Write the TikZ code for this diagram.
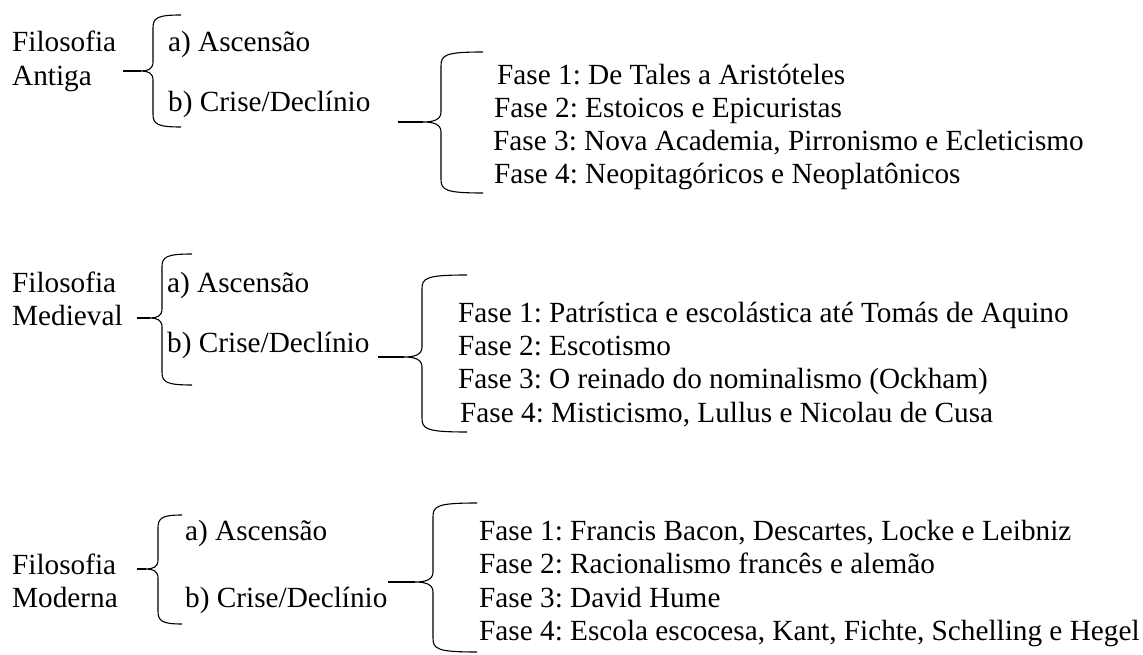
\documentclass[tikz,border=0pt]{standalone}
\usepackage{fontspec}
\setmainfont{Liberation Serif}
\tikzset{
  texto/.style={anchor=base west,inner sep=0pt,font=\fontsize{29.25}{33}\selectfont},
  chave/.style={line width=1.1pt,line join=round}
}
\frenchspacing
\begin{document}
\begin{tikzpicture}[x=1pt,y=-1pt]
	\useasboundingbox (0,0) rectangle (1143,655);
	% Filosofia Antiga
	\node[texto] (antigaA) at (12,52) {Filosofia};
	\node[texto] (antigaB) at (12,86) {Antiga};
	\node[texto] (antigaAsc) at (168,52) {a) Ascens\~ao};
	\node[texto] (antigaCri) at (168,112) {b) Crise/Decl\'inio};
	\node[texto] (antigaF1) at (497,85) {Fase 1: De Tales a Arist\'oteles};
	\node[texto] (antigaF2) at (494,118) {Fase 2: Estoicos e Epicuristas};
	\node[texto] (antigaF3) at (493,151) {Fase 3: Nova Academia, Pirronismo e Ecleticismo};
	\node[texto] (antigaF4) at (494,184) {Fase 4: Neopitag\'oricos e Neoplat\^onicos};
	\coordinate (antigaIni) at (123,71);
	\coordinate (antigaPta) at (141,71);
	\coordinate (antigaIni2) at (398,122);
	\coordinate (antigaPta2) at (423,122);
	\draw[chave] (antigaIni) -- (antigaPta);
	\draw[chave] (181,15) .. controls (157,15) and (153,18) .. (153,28) -- (153,62)
		.. controls (153,69) and (148,71) .. (antigaPta)
		.. controls (148,71) and (153,73) .. (153,80) -- (153,114)
		.. controls (153,124) and (157,127) .. (181,127);
	\draw[chave] (antigaIni2) -- (antigaPta2);
	\draw[chave] (483,52) .. controls (445,52) and (441,55) .. (441,66) -- (441,112)
		.. controls (441,120) and (433,122) .. (antigaPta2)
		.. controls (433,122) and (441,124) .. (441,132) -- (441,179)
		.. controls (441,190) and (445,193) .. (483,193);
	% Filosofia Medieval
	\node[texto] (medA) at (12,292) {Filosofia};
	\node[texto] (medB) at (12,325) {Medieval};
	\node[texto] (medAsc) at (167,292) {a) Ascens\~ao};
	\node[texto] (medCri) at (167,352) {b) Crise/Decl\'inio};
	\node[texto] (medF1) at (458,322) {Fase 1: Patr\'istica e escol\'astica at\'e Tom\'as de Aquino};
	\node[texto] (medF2) at (458,355) {Fase 2: Escotismo};
	\node[texto] (medF3) at (458,388) {Fase 3: O reinado do nominalismo (Ockham)};
	\node[texto] (medF4) at (460,422) {Fase 4: Misticismo, Lullus e Nicolau de Cusa};
	\coordinate (medIni) at (137,318);
	\coordinate (medPta) at (150,318);
	\coordinate (medIni2) at (378,357);
	\coordinate (medPta2) at (404,357);
	\draw[chave] (medIni) -- (medPta);
	\draw[chave] (192,254) .. controls (166,254) and (162,257) .. (162,267) -- (162,309)
		.. controls (162,316) and (157,318) .. (medPta)
		.. controls (157,318) and (162,320) .. (162,327) -- (162,372)
		.. controls (162,382) and (166,385) .. (192,385);
	\draw[chave] (medIni2) -- (medPta2);
	\draw[chave] (467,275) .. controls (426,275) and (422,278) .. (422,289) -- (422,347)
		.. controls (422,355) and (414,357) .. (medPta2)
		.. controls (414,357) and (422,359) .. (422,367) -- (422,418)
		.. controls (422,429) and (426,432) .. (467,432);
	% Filosofia Moderna
	\node[texto] (modA) at (12,574) {Filosofia};
	\node[texto] (modB) at (12,607) {Moderna};
	\node[texto] (modAsc) at (185,540) {a) Ascens\~ao};
	\node[texto] (modCri) at (185,607) {b) Crise/Decl\'inio};
	\node[texto] (modF1) at (479,540) {Fase 1: Francis Bacon, Descartes, Locke e Leibniz};
	\node[texto] (modF2) at (479,573) {Fase 2: Racionalismo franc\^es e alem\~ao};
	\node[texto] (modF3) at (479,607) {Fase 3: David Hume};
	\node[texto] (modF4) at (479,640) {Fase 4: Escola escocesa, Kant, Fichte, Schelling e Hegel};
	\coordinate (modIni) at (137,569);
	\coordinate (modPta) at (146,569);
	\coordinate (modIni2) at (388,582);
	\coordinate (modPta2) at (415,582);
	\draw[chave] (modIni) -- (modPta);
	\draw[chave] (182,515) .. controls (162,515) and (158,518) .. (158,528) -- (158,560)
		.. controls (158,567) and (153,569) .. (modPta)
		.. controls (153,569) and (158,571) .. (158,578) -- (158,611)
		.. controls (158,621) and (162,624) .. (182,624);
	\draw[chave] (modIni2) -- (modPta2);
	\draw[chave] (477,503) .. controls (437,503) and (433,506) .. (433,517) -- (433,572)
		.. controls (433,580) and (425,582) .. (modPta2)
		.. controls (425,582) and (433,584) .. (433,592) -- (433,638)
		.. controls (433,649) and (437,652) .. (477,652);
\end{tikzpicture}
\end{document}
